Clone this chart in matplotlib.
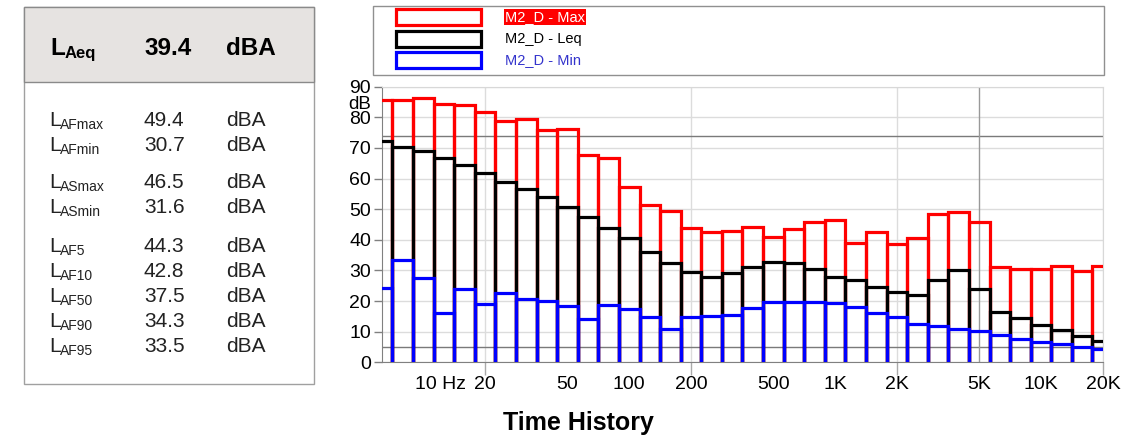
import numpy as np
import matplotlib
matplotlib.use("Agg")
import matplotlib.pyplot as plt
import matplotlib.transforms as mtrans
from matplotlib.patches import Rectangle
from matplotlib.ticker import FixedLocator, NullFormatter

plt.rcParams["font.family"] = ["Liberation Sans", "DejaVu Sans"]

# third-octave band centres (Hz)
bands = [6.3, 8, 10, 12.5, 16, 20, 25, 31.5, 40, 50, 63, 80, 100, 125, 160,
         200, 250, 315, 400, 500, 630, 800, 1000, 1250, 1600, 2000, 2500,
         3150, 4000, 5000, 6300, 8000, 10000, 12500, 16000, 20000]
lmax = [85.7, 85.6, 86.2, 84.5, 84.0, 81.9, 78.8, 79.4, 75.8, 76.1, 67.7, 66.6,
        57.1, 51.4, 49.5, 43.7, 42.4, 42.8, 44.3, 40.8, 43.4, 45.9, 46.5, 39.1,
        42.4, 38.5, 40.7, 48.4, 49.0, 45.9, 31.0, 30.5, 30.4, 31.4, 29.9, 31.4]
leq = [72.3, 70.4, 69.1, 66.8, 64.3, 61.9, 58.9, 56.6, 53.9, 50.6, 47.3, 43.7,
       40.5, 35.9, 32.3, 29.4, 28.0, 29.2, 31.1, 32.9, 32.3, 30.4, 27.7, 26.8,
       24.7, 22.9, 22.0, 26.9, 30.1, 23.8, 16.5, 14.5, 12.2, 10.6, 8.7, 7.0]
lmin = [24.4, 33.4, 27.4, 16.2, 24.0, 18.9, 22.7, 20.6, 20.1, 18.4, 14.0, 18.7,
        17.5, 14.7, 10.9, 14.7, 15.2, 15.6, 17.6, 19.8, 19.6, 19.6, 19.3, 17.9,
        16.0, 14.9, 12.4, 12.0, 10.9, 10.1, 8.9, 7.6, 6.5, 5.9, 5.1, 4.5]

series_names = ["M2_D - Max", "M2_D - Leq", "M2_D - Min"]
series_colors = ["#ff0000", "#000000", "#0000ff"]

xtick_pos = [10, 20, 50, 100, 200, 500, 1000, 2000, 5000, 10000, 20000]
xtick_labels = ["10 Hz", "20", "50", "100", "200", "500", "1K", "2K", "5K", "10K", "20K"]
xgrid_pos = [20, 200, 2000, 20000]
cursor_levels = [74, 5]
cursor_freq = 5000

# summary table
laeq = 39.4
stat_names = ["AFmax", "AFmin", "ASmax", "ASmin", "AF5", "AF10", "AF50", "AF90", "AF95"]
stat_values = [49.4, 30.7, 46.5, 31.6, 44.3, 42.8, 37.5, 34.3, 33.5]
stat_rows_px = [126, 151, 188, 213, 252, 277, 302, 327, 352]

W, H = 1139, 440
fig = plt.figure(figsize=(W / 100, H / 100), dpi=100)

# -------- spectrum axes --------
ax = fig.add_axes([382 / W, 1 - 362.3 / H, 721 / W, 275.6 / H])
ax.set_xscale("log")
ax.set_xlim(6.3, 20000)
ax.set_ylim(0, 90)

# exact band edges from nominal centres
centres = 10 ** (np.round(10 * np.log10(bands)) / 10)
lo = centres * 10 ** -0.05
hi = centres * 10 ** 0.05

for vals, col, z in zip([lmax, leq, lmin], series_colors, [3, 4, 5]):
    for l, h, v in zip(lo, hi, vals):
        ax.plot([l, l, h, h], [0, v, v, 0], color=col, lw=2.3, zorder=z,
                solid_joinstyle="miter", solid_capstyle="butt")

# ticks: labels on major (no marks), marks + grid on minor
ax.set_yticks(np.arange(0, 91, 10))
ax.xaxis.remove_overlapping_locs = False
ax.xaxis.set_major_locator(FixedLocator(xtick_pos))
ax.set_xticklabels(xtick_labels)
ax.xaxis.set_minor_locator(FixedLocator(xgrid_pos))
ax.xaxis.set_minor_formatter(NullFormatter())
ax.grid(True, axis="y", which="major", color="#dcdcdc", lw=1)
ax.grid(True, axis="x", which="minor", color="#dcdcdc", lw=1)
ax.set_axisbelow(True)
for lev in cursor_levels:
    ax.axhline(lev, color="#7a7a7a", lw=1, zorder=2)
ax.axvline(cursor_freq, color="#999999", lw=1, zorder=2)

ax.tick_params(axis="y", length=6, width=1, color="#808080", pad=2, labelsize=14)
ax.tick_params(axis="x", which="major", length=0, pad=10, labelsize=14)
ax.tick_params(axis="x", which="minor", length=9, width=1, color="#aaaaaa")
lbl10 = ax.get_xticklabels()[0]
lbl10.set_ha("left")
lbl10.set_transform(lbl10.get_transform() + mtrans.ScaledTranslation(-8 / 100, 0, fig.dpi_scale_trans))

for s in ["left", "bottom"]:
    ax.spines[s].set_color("#808080")
for s in ["top", "right"]:
    ax.spines[s].set_color("#d8d8d8")

ax.annotate("dB", xy=(0, 84.3), xycoords=ax.get_yaxis_transform(),
            xytext=(-8, 0), textcoords="offset points", ha="right", va="center", fontsize=13.5)

# -------- overlay for table, legend and title --------
ov = fig.add_axes([0, 0, 1, 1], zorder=-1)
ov.set_xlim(0, W)
ov.set_ylim(H, 0)
ov.axis("off")

ov.add_patch(Rectangle((24, 7), 290, 377, facecolor="white", edgecolor="#a0a0a0", lw=1))
ov.add_patch(Rectangle((24, 7), 290, 75, facecolor="#e6e3e1", edgecolor="#8a8a8a", lw=1))
ov.text(50, 55, "L", fontsize=17.5, fontweight="bold", va="baseline")
ov.text(65, 58, "Aeq", fontsize=12, fontweight="bold", va="baseline")
ov.text(144, 55, f"{laeq:.1f}", fontsize=17.5, fontweight="bold", va="baseline")
ov.text(226, 55, "dBA", fontsize=17.5, fontweight="bold", va="baseline")

for name, val, yb in zip(stat_names, stat_values, stat_rows_px):
    ov.text(49, yb, "L", fontsize=15, va="baseline", color="#222222")
    ov.text(60, yb + 3, name, fontsize=10, va="baseline", color="#222222")
    ov.text(144, yb, f"{val:.1f}", fontsize=15, va="baseline", color="#222222")
    ov.text(226, yb, "dBA", fontsize=15, va="baseline", color="#222222")

# legend box
ov.add_patch(Rectangle((373, 6), 731, 69, facecolor="white", edgecolor="#909090", lw=1))
for i, (name, col) in enumerate(zip(series_names, series_colors)):
    yc = 17 + i * 21.7
    ov.add_patch(Rectangle((396, yc - 8), 85, 16, facecolor="white", edgecolor=col,
                           lw=2.3, joinstyle="miter"))
    t = ov.text(505, yc, name, fontsize=10.5, va="center", ha="left",
                color="white" if i == 0 else ("#3333cc" if i == 2 else "black"))
    if i == 0:
        t.set_bbox(dict(facecolor="#ff0000", edgecolor="none", pad=1))

ov.text(578, 430, "Time History", fontsize=18, fontweight="bold", ha="center", va="baseline")

fig.savefig("out.png", dpi=100)
